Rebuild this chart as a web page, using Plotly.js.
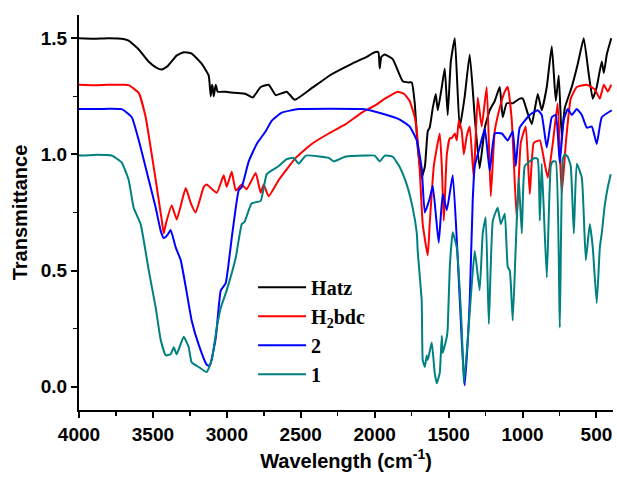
<!DOCTYPE html>
<html>
<head>
<meta charset="utf-8">
<script src="https://cdn.plot.ly/plotly-3.0.1.min.js"></script>
<style>html,body{margin:0;padding:0;background:#fff;}#chart{width:617px;height:479px;}</style>
</head>
<body>
<div id="chart"></div>
<script>
var seriesNames = ["Hatz", "H<sub>2</sub>bdc", "2", "1"];
var seriesColors = ["#000000", "#ff0000", "#0000ff", "#008080"];

var hatzX = [4000,3900,3800,3700,3664,3600,3530,3480,3441,3400,3340,3292,3240,3170,3123,3109,3100,3096,3089,3075,3062,3008,2950,2872,2825,2771,2717,2669,2595,2541,2426,2291,2155,2054,2000,1975,1966,1955,1932,1878,1810,1770,1749,1729,1709,1682,1660,1641,1628,1607,1587,1573,1546,1526,1506,1485,1458,1425,1391,1357,1323,1290,1255,1222,1188,1154,1134,1107,1066,1019,998,964,937,897,870,836,802,775,755,735,714,667,626,586,552,525,498,464,450,430,400];
var hatzY = [1.50,1.498,1.50,1.497,1.49,1.455,1.40,1.375,1.365,1.38,1.425,1.44,1.435,1.39,1.34,1.25,1.30,1.29,1.25,1.30,1.27,1.27,1.265,1.26,1.245,1.29,1.30,1.255,1.27,1.235,1.285,1.345,1.39,1.42,1.44,1.44,1.37,1.42,1.43,1.41,1.315,1.31,1.31,1.22,1.03,0.90,0.95,1.10,1.115,1.20,1.26,1.19,1.29,1.37,1.17,1.40,1.50,1.115,1.25,1.43,1.16,0.94,1.115,1.19,1.23,1.29,1.16,1.22,1.22,1.24,1.24,1.175,1.13,1.26,1.19,1.29,1.465,1.23,1.34,1.08,1.20,1.29,1.39,1.50,1.345,1.24,1.29,1.40,1.35,1.43,1.50];

var bdcX = [4000,3900,3800,3700,3664,3596,3549,3508,3474,3441,3427,3413,3373,3339,3278,3244,3211,3156,3136,3068,3021,3001,2967,2940,2899,2866,2805,2771,2751,2717,2649,2534,2426,2311,2196,2087,2000,1930,1844,1800,1763,1729,1715,1695,1675,1641,1628,1600,1560,1546,1533,1526,1512,1492,1479,1458,1445,1431,1411,1397,1377,1357,1330,1303,1276,1242,1215,1188,1154,1120,1100,1073,1039,1012,978,951,924,883,850,829,795,762,735,707,674,633,565,511,477,450,423,400];
var bdcY = [1.30,1.298,1.30,1.30,1.298,1.265,1.16,1.00,0.86,0.72,0.66,0.70,0.78,0.72,0.855,0.79,0.75,0.86,0.87,0.835,0.91,0.86,0.925,0.845,0.87,0.85,0.92,0.835,0.87,0.82,0.89,0.985,1.045,1.09,1.13,1.18,1.21,1.24,1.27,1.26,1.23,1.16,1.10,0.93,0.70,0.565,0.70,0.95,1.09,0.95,0.715,0.80,1.00,1.07,1.07,1.09,1.06,1.145,1.10,1.00,1.08,1.12,0.90,1.245,1.12,1.29,0.82,1.10,1.20,1.27,1.29,1.15,0.72,1.05,1.12,0.83,1.05,1.06,0.96,0.90,1.05,1.22,0.83,1.05,1.24,1.29,1.30,1.28,1.24,1.30,1.27,1.30];

var c2X = [4000,3900,3800,3711,3643,3583,3528,3481,3447,3427,3400,3380,3346,3312,3278,3238,3190,3136,3116,3075,3041,3008,2967,2920,2899,2852,2798,2737,2696,2629,2514,2300,2087,1946,1830,1763,1715,1682,1661,1628,1607,1567,1540,1512,1472,1438,1411,1391,1370,1357,1337,1323,1290,1255,1222,1188,1140,1100,1066,1046,1019,951,897,870,836,802,775,748,721,694,667,633,599,565,531,498,464,396];
var c2Y = [1.195,1.195,1.197,1.195,1.16,1.03,0.89,0.77,0.67,0.64,0.655,0.675,0.60,0.545,0.43,0.285,0.18,0.095,0.09,0.21,0.415,0.445,0.64,0.845,0.86,0.97,1.045,1.10,1.145,1.18,1.195,1.197,1.195,1.175,1.15,1.12,1.06,0.94,0.75,0.81,0.865,0.62,0.83,0.76,0.91,0.55,0.20,0.005,0.20,0.37,0.80,0.95,1.03,1.11,0.93,1.09,1.09,1.06,1.10,0.95,1.115,1.17,1.19,1.17,1.03,1.16,1.17,0.965,1.15,1.195,1.17,1.195,1.17,1.115,1.12,1.045,1.16,1.19];

var c1X = [4000,3900,3779,3711,3664,3630,3583,3528,3481,3447,3413,3380,3359,3339,3292,3258,3238,3190,3136,3102,3068,3041,3001,2940,2899,2880,2832,2771,2730,2649,2595,2548,2514,2466,2311,2277,2200,2060,2000,1966,1932,1878,1830,1783,1743,1715,1709,1682,1675,1661,1648,1641,1614,1594,1580,1560,1546,1540,1512,1506,1492,1472,1445,1411,1397,1377,1343,1323,1290,1269,1249,1228,1201,1168,1147,1120,1100,1086,1066,1046,1026,1005,985,951,917,897,883,870,836,809,795,775,748,728,714,694,674,653,633,599,572,545,525,498,477,464,444,423,403];
var c1Y = [0.995,0.998,0.995,0.965,0.89,0.77,0.70,0.50,0.34,0.20,0.135,0.14,0.17,0.14,0.215,0.17,0.105,0.085,0.063,0.115,0.255,0.34,0.415,0.555,0.70,0.71,0.79,0.80,0.915,0.95,0.98,0.985,0.96,0.995,0.985,0.97,0.99,0.995,0.995,0.97,0.995,0.99,0.945,0.87,0.77,0.66,0.585,0.37,0.115,0.085,0.135,0.115,0.19,0.06,0.015,0.06,0.22,0.145,0.215,0.25,0.515,0.665,0.60,0.25,0.015,0.15,0.445,0.585,0.415,0.66,0.73,0.27,0.715,0.77,0.70,0.745,0.515,0.50,0.285,0.60,0.90,0.66,0.95,0.97,0.985,0.98,0.715,0.96,0.47,0.95,0.97,0.97,0.255,0.98,1.00,0.99,0.95,0.66,0.96,0.90,0.545,0.70,0.60,0.36,0.60,0.66,0.78,0.86,0.915];

var xs = [hatzX, bdcX, c2X, c1X];
var ys = [hatzY, bdcY, c2Y, c1Y];

var traces = xs.map(function(x, i) {
  return {
    x: x, y: ys[i], type: 'scatter', mode: 'lines',
    name: seriesNames[i], legendgroup: 'g' + i,
    line: {color: seriesColors[i], width: 2, shape: 'spline', smoothing: 0.4}
  };
});

var tickFont = {family: 'Liberation Sans, Arial, sans-serif', size: 19, color: '#000', weight: 'bold'};
var layout = {
  width: 617, height: 479,
  margin: {l: 79, r: 4, t: 15, b: 69},
  paper_bgcolor: '#fff', plot_bgcolor: '#fff',
  showlegend: true,
  legend: {
    x: 0.326, y: 0.36, xanchor: 'left', yanchor: 'top',
    bgcolor: 'rgba(0,0,0,0)', borderwidth: 0,
    font: {family: 'Liberation Serif, Times New Roman, serif', size: 20, color: '#000', weight: 'bold'},
    tracegroupgap: 0, itemwidth: 48
  },
  xaxis: {
    range: [4000, 388], autorange: false,
    tick0: 0, dtick: 500,
    showgrid: false, zeroline: false,
    showline: true, linecolor: '#000', linewidth: 2,
    ticks: 'outside', ticklen: 6, tickwidth: 2, tickcolor: '#000',
    minor: {dtick: 250, tick0: 0, ticks: 'outside', ticklen: 4, tickwidth: 1.5, tickcolor: '#000', showgrid: false},
    tickfont: tickFont,
    title: {text: 'Wavelength (cm<sup>-1</sup>)', font: {family: 'Liberation Sans, Arial, sans-serif', size: 20, color: '#000', weight: 'bold'}, standoff: 10}
  },
  yaxis: {
    range: [-0.1, 1.6], autorange: false,
    tick0: 0, dtick: 0.5, tickformat: '.1f',
    showgrid: false, zeroline: false,
    showline: true, linecolor: '#000', linewidth: 2,
    ticks: 'outside', ticklen: 6, tickwidth: 2, tickcolor: '#000',
    minor: {dtick: 0.25, tick0: 0, ticks: 'outside', ticklen: 4, tickwidth: 1.5, tickcolor: '#000', showgrid: false},
    tickfont: tickFont,
    title: {text: 'Transmittance', font: {family: 'Liberation Sans, Arial, sans-serif', size: 20, color: '#000', weight: 'bold'}, standoff: 8}
  }
};

Plotly.newPlot('chart', traces, layout, {displayModeBar: false, staticPlot: true});
</script>
</body>
</html>
